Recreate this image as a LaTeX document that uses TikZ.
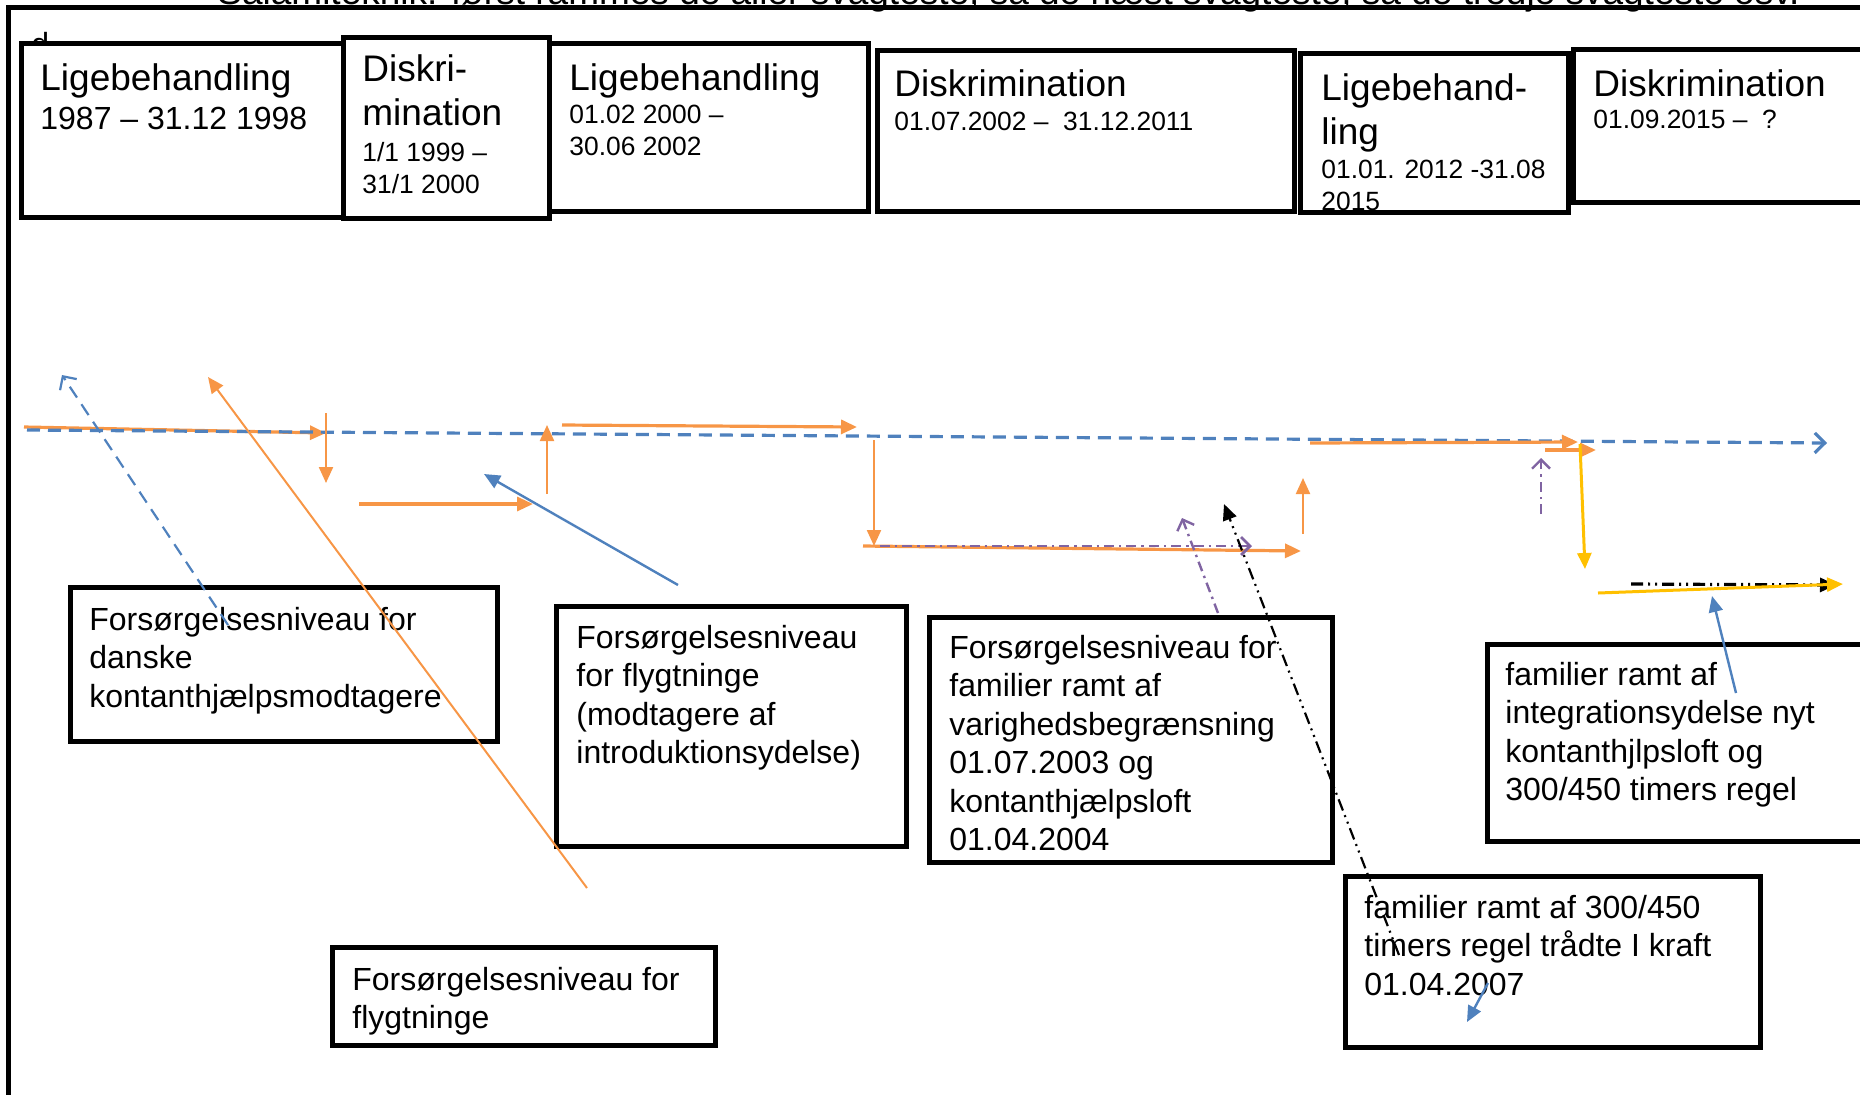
\documentclass[tikz,border=0pt]{standalone}
\usepackage{fontspec}
\setmainfont{Liberation Sans}
\usetikzlibrary{arrows.meta,fit}
\definecolor{orng}{HTML}{F79646}
\definecolor{blu}{HTML}{4F81BD}
\definecolor{purp}{HTML}{8064A2}
\definecolor{yel}{HTML}{FFC000}
\begin{document}
\begin{tikzpicture}[x=0.5pt,y=-0.5pt,
 boxframe/.style={draw=black,line width=2.5pt,fill=white,inner sep=0pt},
 ttl/.style={anchor=base west,inner sep=0pt,font=\fontsize{18.5}{22}\selectfont},
 dsm/.style={anchor=base west,inner sep=0pt,font=\fontsize{13.2}{16}\selectfont},
 body/.style={anchor=base west,inner sep=0pt,font=\fontsize{16}{19.25}\selectfont},
 otip/.style={-{Triangle[length=8pt,width=7pt]}},
 oarr/.style={draw=orng,line width=1.6pt,otip},
 oarrthin/.style={draw=orng,line width=1.1pt,otip},
 oline/.style={draw=orng,line width=1pt,otip},
 yarr/.style={draw=yel,line width=1.5pt,otip},
 barr/.style={draw=blu,line width=1.2pt,otip},
 bdash/.style={draw=blu,line width=1.6pt,dash pattern=on 6.5pt off 4pt,-{Straight Barb[length=5pt,width=10pt]}},
 pdash/.style={draw=purp,line width=1.4pt,dash pattern=on 5pt off 2.5pt on 1.2pt off 2.5pt,-{Straight Barb[length=4.5pt,width=9pt]}},
 kdash/.style={draw=black,line width=1.1pt,dash pattern=on 6pt off 2.5pt on 1pt off 2.5pt on 1pt off 2.5pt,otip},
]
\path[use as bounding box] (0,0) rectangle (1860,1094);
\clip (0,0) rectangle (1860,1094);

% cut-off heading and stray letter
\node[anchor=base west,inner sep=0pt,font=\fontsize{18.5}{22}\selectfont] (head) at (217,4)
  {Salamiteknik: først rammes de aller svagteste, så de næst svagteste, så de tredje svagteste osv.};
\node[anchor=base west,inner sep=0pt,font=\fontsize{16}{19}\selectfont] (dd) at (31,55) {d};
\draw[line width=2.5pt] (8,1100) -- (8,7) -- (1900,7);

% top period boxes
\node[boxframe,fit={(21,43)(343,217)}] (b1) {};
\node[boxframe,fit={(549,43)(868,211)}] (b3) {};
\node[boxframe,fit={(343,37)(549,218)}] (b2) {};
\node[boxframe,fit={(877,50)(1294,211)}] (b4) {};
\node[boxframe,fit={(1300,53)(1568,212)}] (b5) {};
\node[boxframe,fit={(1573,49)(1900,202)}] (b6) {};

\node[ttl] (t1) at (40,90) {Ligebehandling};
\node[body] (d1) at (40,129) {1987 – 31.12 1998};
\node[ttl] (t2) at (362,81) {\vtop{\hbox{Diskri-}\hbox{mination}}};
\node[dsm] (d2) at (362,161) {\vtop{\hbox{1/1 1999 –}\hbox{31/1 2000}}};
\node[ttl] (t3) at (569,90) {Ligebehandling};
\node[dsm] (d3) at (569,123) {\vtop{\hbox{01.02 2000 –}\hbox{30.06 2002}}};
\node[ttl] (t4) at (894,96) {Diskrimination};
\node[dsm] (d4) at (894,130) {01.07.2002 –\ \ 31.12.2011};
\begin{scope}
\clip (1300,53) rectangle (1568,210);
\node[ttl] (t5) at (1321,100) {\vtop{\hbox{Ligebehand-}\hbox{ling}}};
\node[dsm] (d5) at (1321,178) {\vtop{\hbox{01.01. 2012 -31.08}\hbox{2015}}};
\end{scope}
\node[ttl] (t6) at (1593,96) {Diskrimination};
\node[dsm] (d6) at (1593,128) {01.09.2015 –\ \ ?};

% lower boxes
\node[boxframe,fit={(70,587)(497,741)}] (bA) {};
\node[body] (tA) at (89,630) {\vtop{\hbox{Forsørgelsesniveau for}\hbox{danske}\hbox{kontanthjælpsmodtagere}}};
\node[boxframe,fit={(556,606)(906,846)}] (bB) {};
\node[body] (tB) at (576,648) {\vtop{\hbox{Forsørgelsesniveau}\hbox{for flygtninge}\hbox{(modtagere af}\hbox{introduktionsydelse)}}};
\node[boxframe,fit={(332,947)(715,1045)}] (bC) {};
\node[body] (tC) at (352,990) {\vtop{\hbox{Forsørgelsesniveau for}\hbox{flygtninge}}};
\node[boxframe,fit={(929,617)(1332,862)}] (bD) {};
\node[body] (tD) at (949,658) {\vtop{\hbox{Forsørgelsesniveau for}\hbox{familier ramt af}\hbox{varighedsbegrænsning}\hbox{01.07.2003 og}\hbox{kontanthjælpsloft}\hbox{01.04.2004}}};
\node[boxframe,fit={(1487,644)(1900,841)}] (bE) {};
\node[body] (tE) at (1505,685) {\vtop{\hbox{familier ramt af}\hbox{integrationsydelse nyt}\hbox{kontanthjlpsloft og}\hbox{300/450 timers regel}}};
\node[boxframe,fit={(1345,876)(1760,1047)}] (bF) {};
\node[body] (tF) at (1364,918) {\vtop{\hbox{familier ramt af 300/450}\hbox{timers regel trådte I kraft}\hbox{01.04.2007}}};

% coordinates
\coordinate (o1a) at (24,427);   \coordinate (o1b) at (326,433);
\coordinate (o1c) at (326,413);  \coordinate (o1d) at (326,483);
\coordinate (o2a) at (359,504);  \coordinate (o2b) at (533,504);
\coordinate (o2c) at (547,494);  \coordinate (o2d) at (547,425);
\coordinate (o3a) at (562,425);  \coordinate (o3b) at (857,427);
\coordinate (o4a) at (874,440);  \coordinate (o4b) at (874,546);
\coordinate (o5a) at (863,546);  \coordinate (o5b) at (1301,551);
\coordinate (o6a) at (1303,534); \coordinate (o6b) at (1303,478);
\coordinate (o7a) at (1310,443); \coordinate (o7b) at (1578,442);
\coordinate (o8a) at (1545,450); \coordinate (o8b) at (1596,450);
\coordinate (y1a) at (1580,444); \coordinate (y1b) at (1585,569);
\coordinate (y2a) at (1598,593); \coordinate (y2b) at (1843,584);
\coordinate (oda) at (587,888);  \coordinate (odb) at (208,377);
\coordinate (bda) at (228,625);  \coordinate (bdb) at (62,375);
\coordinate (bma) at (27,430);   \coordinate (bmb) at (1827,443);
\coordinate (b1a) at (678,585);  \coordinate (b1b) at (484,474);
\coordinate (b2a) at (1736,693); \coordinate (b2b) at (1712,596);
\coordinate (b3a) at (1488,983); \coordinate (b3b) at (1467,1022);
\coordinate (p1a) at (880,546);  \coordinate (p1b) at (1252,546);
\coordinate (p2a) at (1218,613); \coordinate (p2b) at (1182,518);
\coordinate (p3a) at (1541,514); \coordinate (p3b) at (1541,458);
\coordinate (k1a) at (1399,955); \coordinate (k1b) at (1224,504);
\coordinate (k2a) at (1631,584); \coordinate (k2b) at (1836,585);

% connectors
\draw[oarr] (o1a) -- (o1b);
\draw[bdash] (bma) -- (bmb);
\draw[oarrthin] (o1c) -- (o1d);
\draw[oarr] (o2a) -- (o2b);
\draw[oarrthin] (o2c) -- (o2d);
\draw[oarr] (o3a) -- (o3b);
\draw[oarrthin] (o4a) -- (o4b);
\draw[oarr] (o5a) -- (o5b);
\draw[pdash] (p1a) -- (p1b);
\draw[oarrthin] (o6a) -- (o6b);
\draw[oarr] (o7a) -- (o7b);
\draw[oarr] (o8a) -- (o8b);
\draw[yarr] (y1a) -- (y1b);
\draw[kdash,line width=1.6pt] (k2a) -- (k2b);
\draw[yarr] (y2a) -- (y2b);
\draw[oline] (oda) -- (odb);
\draw[bdash,line width=1.1pt] (bda) -- (bdb);
\draw[barr] (b1a) -- (b1b);
\draw[barr] (b2a) -- (b2b);
\draw[barr] (b3a) -- (b3b);
\draw[pdash,line width=1.2pt] (p2a) -- (p2b);
\draw[pdash,line width=1.2pt] (p3a) -- (p3b);
\draw[kdash] (k1a) -- (k1b);
\end{tikzpicture}
\end{document}
